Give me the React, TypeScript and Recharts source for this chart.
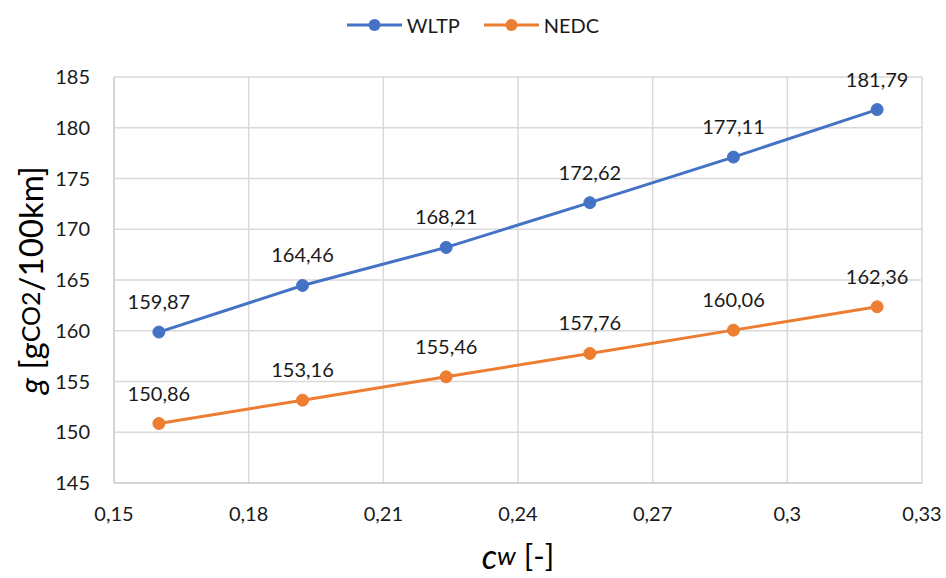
import {
  CartesianGrid,
  Label,
  LabelList,
  Legend,
  Line,
  LineChart,
  XAxis,
  YAxis,
} from "recharts";

const cwValues = [0.16, 0.192, 0.224, 0.256, 0.288, 0.32];
const wltpValues = [159.87, 164.46, 168.21, 172.62, 177.11, 181.79];
const nedcValues = [150.86, 153.16, 155.46, 157.76, 160.06, 162.36];
const xTicks = [0.15, 0.18, 0.21, 0.24, 0.27, 0.3, 0.33];
const yTicks = [145, 150, 155, 160, 165, 170, 175, 180, 185];

const BLUE = "#4472C4";
const ORANGE = "#ED7D31";
const FONT = "Lato, 'Open Sans', sans-serif";
const TEXT = "#1a1a1a";

const data = cwValues.map((cw, i) => ({
  cw,
  WLTP: wltpValues[i],
  NEDC: nedcValues[i],
}));

const comma = (v: number | string) => String(v).replace(".", ",");

function LegendContent() {
  const items = [
    { name: "WLTP", color: BLUE },
    { name: "NEDC", color: ORANGE },
  ];
  return (
    <div
      style={{
        display: "flex",
        justifyContent: "center",
        gap: 24,
        fontFamily: FONT,
        fontSize: 20,
        color: TEXT,
      }}
    >
      {items.map((it) => (
        <div key={it.name} style={{ display: "flex", alignItems: "center", gap: 5 }}>
          <svg width={55} height={16}>
            <line x1={0} y1={8} x2={55} y2={8} stroke={it.color} strokeWidth={3} />
            <circle cx={27.5} cy={8} r={6} fill={it.color} />
          </svg>
          <span>{it.name}</span>
        </div>
      ))}
    </div>
  );
}

function YTitle(props: any) {
  const { viewBox } = props;
  const cx = 30;
  const cy = viewBox.y + viewBox.height / 2;
  return (
    <text
      x={cx}
      y={cy}
      transform={`rotate(-90 ${cx} ${cy})`}
      textAnchor="middle"
      dominantBaseline="central"
      fill="#000"
      fontFamily={FONT}
      fontSize={33}
    >
      <tspan fontStyle="italic">g</tspan>
      <tspan> [g</tspan>
      <tspan fontSize={25}>CO2</tspan>
      <tspan>/100km]</tspan>
    </text>
  );
}

function XTitle(props: any) {
  const { viewBox } = props;
  const cx = viewBox.x + viewBox.width / 2;
  return (
    <text
      x={cx}
      y={555}
      textAnchor="middle"
      dominantBaseline="central"
      fill="#000"
      fontFamily={FONT}
      fontSize={31}
    >
      <tspan fontStyle="italic" fontSize={34}>c</tspan>
      <tspan fontStyle="italic" fontSize={26}>w</tspan>
      <tspan> [-]</tspan>
    </text>
  );
}

export default function App() {
  return (
    <div style={{ position: "absolute", left: 0, top: 0, background: "#fff" }}>
      <LineChart
        width={946}
        height={578}
        data={data}
        margin={{ top: 77, right: 24, bottom: 0, left: 0 }}
        style={{ fontFamily: FONT }}
      >
        <CartesianGrid stroke="#d9d9d9" strokeWidth={1.5} />
        <XAxis
          dataKey="cw"
          type="number"
          domain={[0.15, 0.33]}
          ticks={xTicks}
          tickFormatter={comma}
          stroke="#d0d0d0"
          strokeWidth={1.5}
          tickLine={false}
          tickSize={0}
          tickMargin={24}
          tick={{ fill: TEXT, fontSize: 20 }}
          height={95}
        >
          <Label content={XTitle} />
        </XAxis>
        <YAxis
          type="number"
          domain={[145, 185]}
          ticks={yTicks}
          stroke="#d0d0d0"
          strokeWidth={1.5}
          tickLine={false}
          tickSize={0}
          tickMargin={24}
          tick={{ fill: TEXT, fontSize: 20 }}
          width={114}
        >
          <Label content={YTitle} />
        </YAxis>
        <Legend
          layout="vertical"
          align="center"
          verticalAlign="middle"
          wrapperStyle={{ top: 13, left: 0, width: 946 }}
          content={<LegendContent />}
        />
        <Line
          dataKey="WLTP"
          stroke={BLUE}
          strokeWidth={3}
          dot={{ r: 6, fill: BLUE, stroke: BLUE, strokeWidth: 1 }}
          isAnimationActive={false}
        >
          <LabelList
            dataKey="WLTP"
            position="top"
            offset={23}
            formatter={comma}
            style={{ fill: TEXT, fontSize: 20 }}
          />
        </Line>
        <Line
          dataKey="NEDC"
          stroke={ORANGE}
          strokeWidth={3}
          dot={{ r: 6, fill: ORANGE, stroke: ORANGE, strokeWidth: 1 }}
          isAnimationActive={false}
        >
          <LabelList
            dataKey="NEDC"
            position="top"
            offset={23}
            formatter={comma}
            style={{ fill: TEXT, fontSize: 20 }}
          />
        </Line>
      </LineChart>
    </div>
  );
}
